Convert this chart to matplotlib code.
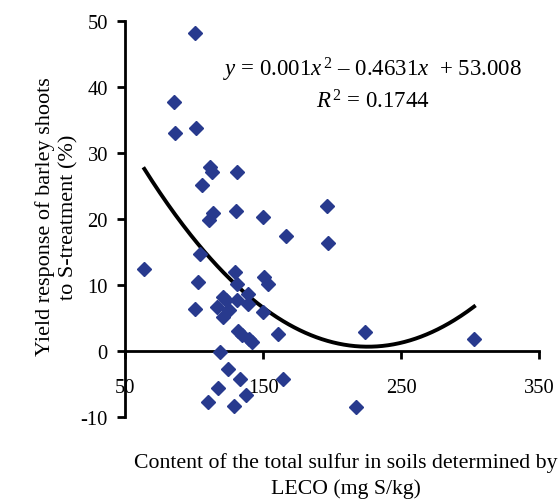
import matplotlib
matplotlib.use("Agg")
import matplotlib.pyplot as plt
import numpy as np

plt.rcParams['font.family'] = ['Liberation Serif', 'DejaVu Serif']
plt.rcParams['mathtext.fontset'] = 'custom'
plt.rcParams['mathtext.rm'] = 'Liberation Serif'
plt.rcParams['mathtext.it'] = 'Liberation Serif:italic'
plt.rcParams['axes.unicode_minus'] = False

sulfur = [100.5, 85.5, 86, 101, 111.4, 112.6, 130.7, 105.8, 113.3, 110.4,
          130.2, 149.6, 166.4, 195.9, 197.1, 104.1, 63.8, 102.7, 129.7, 150.7,
          153.6, 130.7, 121, 123, 130.7, 139, 139, 100.5, 116.2, 125,
          121, 150, 132, 134.5, 141.6, 139.5, 160.9, 223.7, 302.9, 118.5,
          124.7, 133.1, 117.4, 137.3, 110.1, 128.9, 164.5, 217.2]
response = [48.2, 37.8, 33.0, 33.8, 27.9, 27.1, 27.2, 25.2, 20.9, 19.9,
            21.2, 20.4, 17.4, 22.0, 16.4, 14.7, 12.4, 10.5, 12.0, 11.3,
            10.2, 10.2, 8.2, 7.8, 7.7, 8.7, 7.2, 6.4, 6.7, 6.2,
            5.2, 5.9, 3.1, 2.4, 1.4, 1.9, 2.6, 2.9, 1.9, -0.1,
            -2.7, -4.2, -5.6, -6.6, -7.7, -8.3, -4.2, -8.4]
trend_coef = [0.001025, -0.4631, 53.008]
x_ticks = [50, 150, 250, 350]
y_ticks = [-10, 0, 10, 20, 30, 40, 50]

fig = plt.figure(figsize=(5.6, 5.02), dpi=100)
ax = fig.add_axes([0.2238, 0.1667, 0.9625 - 0.2238, 0.9556 - 0.1667])

ax.plot(sulfur, response, linestyle='none', marker='D', markersize=7.3,
        color='#283A8E', zorder=3)
xs = np.linspace(min(sulfur), max(sulfur), 300)
ax.plot(xs, np.polyval(trend_coef, xs), color='black', lw=2.8, zorder=2)

ax.set_xlim(50, 350)
ax.set_ylim(-10, 50)
ax.set_xticks(x_ticks)
ax.set_yticks(y_ticks)
ax.spines['top'].set_visible(False)
ax.spines['right'].set_visible(False)
ax.spines['bottom'].set_position(('data', 0))
for s in ['left', 'bottom']:
    ax.spines[s].set_linewidth(2.0)
ax.tick_params(axis='both', direction='out', length=5.5, width=2.0,
               labelsize=14.8, colors='black')
ax.tick_params(axis='x', pad=14)
ax.tick_params(axis='y', pad=7)

fig.text(57 / 560, 1 - 217 / 502,
         'Yield response of barley shoots\nto S-treatment (%)',
         rotation=90, ha='center', va='center', multialignment='center',
         fontsize=16, linespacing=1.3)
fig.text(346 / 560, 1 - 476 / 502,
         'Content of the total sulfur in soils determined by\nLECO (mg S/kg)',
         ha='center', va='center', multialignment='center', fontsize=15.7,
         linespacing=1.4)

fig.text(372 / 560, 1 - 70 / 502,
         r'$y$ = 0.001$x$$^{\,2}$ – 0.4631$x$  + 53.008',
         ha='center', va='center', fontsize=16.5)
fig.text(373 / 560, 1 - 102 / 502, r'$R$$^{\,2}$ = 0.1744',
         ha='center', va='center', fontsize=16.5)

fig.savefig('out.png', dpi=100)
